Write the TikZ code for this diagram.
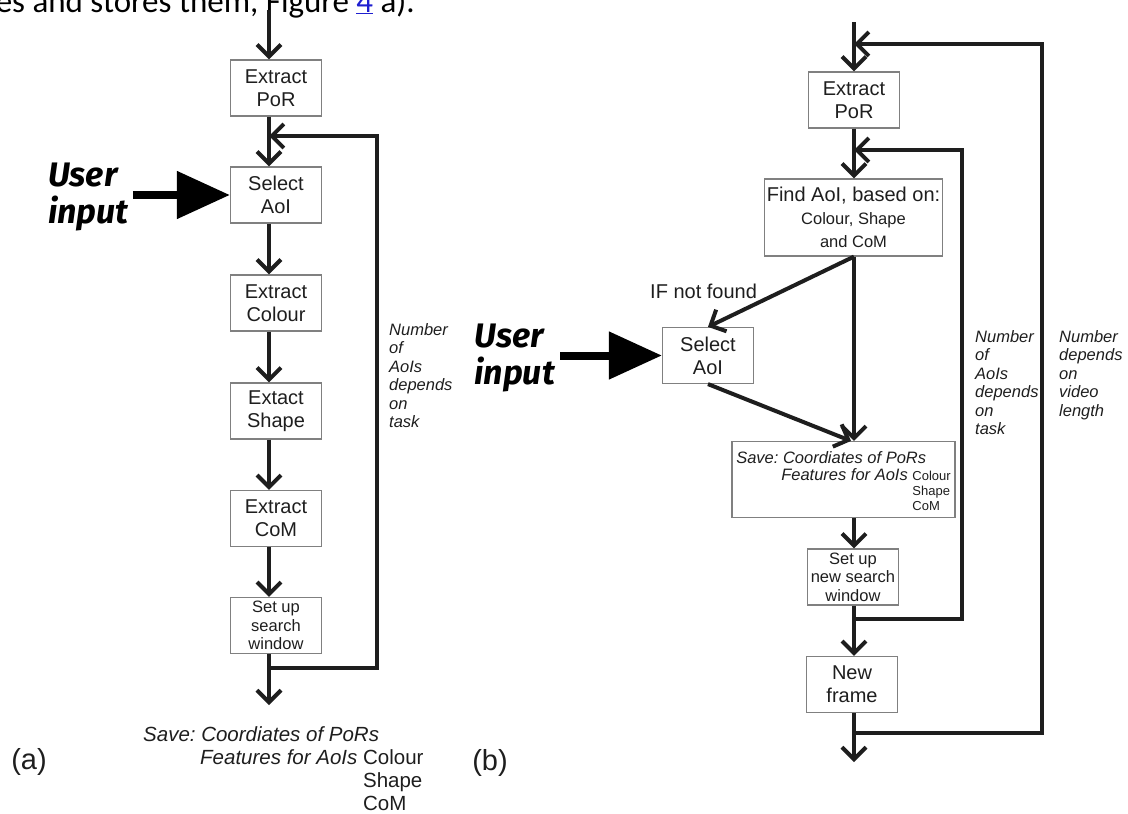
\documentclass[tikz,border=0pt]{standalone}
\usepackage{fontspec}
\setmainfont{Liberation Sans}
\newfontfamily\userfont{Fira Sans}
\newfontfamily\bodyfont{Carlito}
\usetikzlibrary{arrows.meta}

\definecolor{boxgray}{HTML}{808080}
\definecolor{inkgray}{HTML}{1E1E1E}
\definecolor{linkblue}{HTML}{1F1FD0}

\tikzset{
  stepbox/.style={draw=boxgray, line width=1.2pt, minimum width=91pt, minimum height=56pt,
    inner sep=2pt, align=center, text=inkgray, font=\fontsize{20}{23}\selectfont},
  smallbox/.style={stepbox, font=\fontsize{16.5}{18.5}\selectfont},
  flow/.style={draw=inkgray, line width=4pt, -{Straight Barb[length=12pt,width=24pt]}},
  bigarrow/.style={draw=black, line width=8pt, -{Triangle[length=53pt,width=46pt]}},
  userlabel/.style={align=left, inner sep=0pt, font=\userfont\fontsize{34}{37}\selectfont\bfseries\itshape},
  note/.style={align=left, inner sep=0pt, text=inkgray, font=\fontsize{16.5}{18.5}\selectfont\itshape},
  panel/.style={inner sep=0pt, text=inkgray, font=\fontsize{29}{32}\selectfont}
}

\newcommand{\featsize}{\fontsize{16.5}{18.5}\selectfont}
\newcommand{\listsize}{\fontsize{13}{15}\selectfont}

\begin{document}
\frenchspacing
\begin{tikzpicture}[x=1pt,y=-1pt]
    \useasboundingbox (0,0) rectangle (1128,814);

    \begin{scope}
      \clip (0,0) rectangle (1128,814);
      \node[anchor=base east, inner sep=0pt, font=\bodyfont\fontsize{33}{36}\selectfont] (topline) at (415,12)
        {es and stores them, Figure \textcolor{linkblue}{\underline{4}} a).};
    \end{scope}

    % (a)
    \node[stepbox] (porA) at (276,88) {Extract\\PoR};
    \node[stepbox] (selA) at (276,195) {Select\\AoI};
    \node[stepbox] (colA) at (276,303) {Extract\\Colour};
    \node[stepbox] (shpA) at (276,411) {Extact\\Shape};
    \node[stepbox] (comA) at (276,518.5) {Extract\\CoM};
    \node[smallbox] (winA) at (276,625.5) {Set up\\search\\window};

    \coordinate (axA) at (269,10);
    \coordinate (joinA) at (269,668);
    \coordinate (loopA) at (377,136);
    \coordinate (endA) at (269,705);

    \draw[flow] (axA) -- (porA.north -| axA);
    \draw[flow] (porA.south -| axA) -- (selA.north -| axA);
    \draw[flow] (selA.south -| axA) -- (colA.north -| axA);
    \draw[flow] (colA.south -| axA) -- (shpA.north -| axA);
    \draw[flow] (shpA.south -| axA) -- (comA.north -| axA);
    \draw[flow] (comA.south -| axA) -- (winA.north -| axA);
    \draw[flow] (winA.south -| axA) -- (endA);
    \draw[flow] (joinA) -| (loopA) -- (loopA -| axA);

    \node[userlabel, anchor=west] (userA) at (48,197) {User\\input};
    \draw[bigarrow] ([xshift=4pt]userA.east |- selA.west) -- (selA.west);

    \node[note, anchor=north west] (noteA) at (389,323) {Number\\of\\AoIs\\depends\\on\\task};

    \node[anchor=north west, inner sep=0pt, text=inkgray, font=\fontsize{20.5}{23}\selectfont] (saveA) at (143,725)
      {\begin{tabular}{@{}r@{ }l@{}}
        \multicolumn{2}{@{}l@{}}{\itshape Save: Coordiates of PoRs}\\
        \hspace*{57pt}\itshape Features for AoIs & Colour\\
        & Shape\\
        & CoM
      \end{tabular}};

    \node[panel] (labA) at (29,762) {(a)};

    % (b)
    \node[stepbox] (porB) at (854,100) {Extract\\PoR};
    \node[stepbox, minimum width=177pt, minimum height=77pt] (findB) at (853.5,217.5)
      {Find AoI, based on:\\\featsize Colour, Shape\\\featsize and CoM};
    \node[stepbox] (selB) at (708,355.5) {Select\\AoI};
    \node[stepbox, minimum width=223pt, minimum height=75pt, align=left, font=\fontsize{16.5}{16.5}\selectfont] (saveB) at (843.5,479.5)
      {\begin{tabular}{@{}r@{ }l@{}}
        \multicolumn{2}{@{}l@{}}{\rule{0pt}{20pt}\itshape Save: Coordiates of PoRs}\\
        \hspace*{45pt}\itshape Features for AoIs & \listsize Colour\\[-1.5pt]
        & \listsize Shape\\[-1.5pt]
        & \listsize CoM
      \end{tabular}};
    \node[smallbox] (winB) at (853,577) {Set up\\new search\\window};
    \node[stepbox] (newB) at (852,684.5) {New\\frame};

    \coordinate (axB) at (854,22);
    \coordinate (joinB) at (854,619);
    \coordinate (loopB) at (962,150);
    \coordinate (joinC) at (854,733);
    \coordinate (loopC) at (1042,44);
    \coordinate (endB) at (854,762);

    \draw[flow] (axB) -- (porB.north -| axB);
    \draw[flow] (porB.south -| axB) -- (findB.north -| axB);
    \draw[flow] (findB.south -| axB) -- (saveB.north -| axB);
    \draw[flow] (findB.south -| axB) -- (selB.north);
    \draw[flow] (selB.south) -- ([xshift=-3pt]saveB.north -| axB);
    \draw[flow] (saveB.south -| axB) -- (winB.north -| axB);
    \draw[flow] (winB.south -| axB) -- (newB.north -| axB);
    \draw[flow] (newB.south -| axB) -- (endB);
    \draw[flow] (joinB) -| (loopB) -- (loopB -| axB);
    \draw[flow] (joinC) -| (loopC) -- (loopC -| axB);

    \node[anchor=base west, inner sep=0pt, text=inkgray, font=\fontsize{20}{23}\selectfont] (ifB) at (650,298) {IF not found};

    \node[userlabel, anchor=east] (userB) at (555,358) {User\\input};
    \draw[bigarrow] ([xshift=5pt]userB.east |- selB.west) -- (selB.west);

    \node[note, anchor=north west] (noteB) at (975,330) {Number\\of\\AoIs\\depends\\on\\task};
    \node[note, anchor=north west] (noteC) at (1059,330) {Number\\depends\\on\\video\\length};

    \node[panel] (labB) at (490,763) {(b)};
\end{tikzpicture}
\end{document}
